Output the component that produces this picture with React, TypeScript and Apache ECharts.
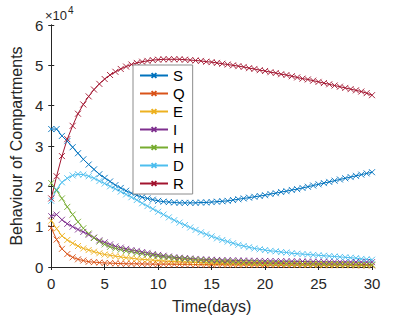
import React, { useEffect, useRef } from "react";
import * as echarts from "echarts";

// time grid (days), step 0.5
const days: number[] = Array.from({ length: 61 }, (_, i) => i * 0.5);

// values in units of 10^4
const S = [3.42, 3.42, 3.25, 3.12, 2.97, 2.82, 2.67, 2.54, 2.42, 2.3, 2.21, 2.12, 2.03, 1.96, 1.89, 1.83, 1.78, 1.73, 1.7, 1.67, 1.64, 1.62, 1.61, 1.6, 1.59, 1.59, 1.59, 1.59, 1.6, 1.6, 1.61, 1.62, 1.63, 1.64, 1.66, 1.68, 1.7, 1.72, 1.74, 1.76, 1.78, 1.81, 1.83, 1.86, 1.88, 1.91, 1.93, 1.96, 1.99, 2.02, 2.05, 2.08, 2.11, 2.14, 2.17, 2.2, 2.23, 2.26, 2.29, 2.32, 2.35];
const Q = [0.97, 0.68, 0.45, 0.32, 0.24, 0.19, 0.16, 0.13, 0.12, 0.11, 0.1, 0.095, 0.09, 0.085, 0.08, 0.08, 0.08, 0.075, 0.075, 0.07, 0.07, 0.07, 0.07, 0.065, 0.065, 0.065, 0.065, 0.06, 0.06, 0.06, 0.06, 0.06, 0.06, 0.055, 0.055, 0.055, 0.055, 0.055, 0.05, 0.05, 0.05, 0.05, 0.05, 0.05, 0.05, 0.05, 0.05, 0.05, 0.05, 0.05, 0.05, 0.045, 0.045, 0.045, 0.045, 0.045, 0.045, 0.04, 0.04, 0.04, 0.04];
const E = [1.15, 0.95, 0.77, 0.67, 0.59, 0.52, 0.46, 0.42, 0.38, 0.34, 0.31, 0.29, 0.27, 0.25, 0.23, 0.22, 0.2, 0.19, 0.18, 0.17, 0.16, 0.15, 0.14, 0.135, 0.13, 0.125, 0.12, 0.115, 0.11, 0.105, 0.1, 0.098, 0.096, 0.094, 0.092, 0.09, 0.088, 0.086, 0.084, 0.082, 0.08, 0.078, 0.076, 0.074, 0.072, 0.07, 0.068, 0.066, 0.064, 0.062, 0.06, 0.059, 0.058, 0.057, 0.056, 0.055, 0.054, 0.053, 0.052, 0.051, 0.05];
const I = [1.26, 1.3, 1.17, 1.07, 1.0, 0.93, 0.87, 0.8, 0.73, 0.66, 0.61, 0.56, 0.51, 0.48, 0.45, 0.42, 0.4, 0.37, 0.35, 0.32, 0.3, 0.28, 0.26, 0.24, 0.23, 0.22, 0.21, 0.2, 0.19, 0.185, 0.18, 0.175, 0.17, 0.167, 0.164, 0.161, 0.158, 0.155, 0.153, 0.151, 0.15, 0.148, 0.146, 0.144, 0.142, 0.14, 0.138, 0.136, 0.134, 0.132, 0.13, 0.129, 0.128, 0.127, 0.126, 0.125, 0.124, 0.123, 0.122, 0.121, 0.12];
const H = [2.08, 1.9, 1.7, 1.49, 1.3, 1.12, 0.96, 0.83, 0.72, 0.63, 0.56, 0.5, 0.46, 0.43, 0.4, 0.38, 0.35, 0.33, 0.31, 0.29, 0.27, 0.25, 0.24, 0.22, 0.21, 0.2, 0.19, 0.18, 0.17, 0.16, 0.15, 0.145, 0.14, 0.135, 0.13, 0.125, 0.12, 0.115, 0.11, 0.105, 0.1, 0.098, 0.096, 0.094, 0.092, 0.09, 0.088, 0.086, 0.084, 0.082, 0.08, 0.078, 0.076, 0.074, 0.072, 0.07, 0.068, 0.066, 0.064, 0.062, 0.06];
const D = [1.64, 1.92, 2.1, 2.2, 2.27, 2.3, 2.29, 2.25, 2.2, 2.13, 2.07, 2.0, 1.94, 1.87, 1.8, 1.73, 1.66, 1.58, 1.51, 1.44, 1.37, 1.3, 1.23, 1.16, 1.1, 1.04, 0.98, 0.92, 0.86, 0.81, 0.76, 0.71, 0.67, 0.63, 0.59, 0.55, 0.52, 0.49, 0.46, 0.44, 0.42, 0.4, 0.39, 0.37, 0.36, 0.34, 0.33, 0.32, 0.31, 0.3, 0.29, 0.28, 0.27, 0.26, 0.25, 0.24, 0.23, 0.22, 0.2, 0.19, 0.18];
const R = [1.7, 2.25, 2.75, 3.17, 3.5, 3.8, 4.03, 4.23, 4.4, 4.54, 4.66, 4.76, 4.84, 4.91, 4.97, 5.02, 5.06, 5.09, 5.11, 5.13, 5.14, 5.15, 5.15, 5.15, 5.15, 5.14, 5.13, 5.12, 5.11, 5.09, 5.08, 5.06, 5.04, 5.02, 5.0, 4.98, 4.96, 4.93, 4.91, 4.88, 4.86, 4.83, 4.81, 4.78, 4.76, 4.73, 4.7, 4.67, 4.65, 4.62, 4.59, 4.56, 4.53, 4.5, 4.47, 4.44, 4.41, 4.38, 4.35, 4.31, 4.26];

const seriesNames = ["S", "Q", "E", "I", "H", "D", "R"];
const seriesValues = [S, Q, E, I, H, D, R];
const seriesColors = ["#0072BD", "#D95319", "#EDB120", "#7E2F8E", "#77AC30", "#4DBEEE", "#A2142F"];

const xTicks = [0, 5, 10, 15, 20, 25, 30];
const yTicks = [0, 1, 2, 3, 4, 5, 6];

const CROSS = "path://M0,0L10,10M0,10L10,0";
const FONT = "Liberation Sans, Arial, sans-serif";
const AX = "#262626";

export default function App() {
  const ref = useRef<HTMLDivElement>(null);
  useEffect(() => {
    if (!ref.current) return;
    const chart = echarts.init(ref.current, undefined, { renderer: "svg" });
    const axisCommon = {
      type: "value" as const,
      axisLine: { show: true, lineStyle: { color: AX, width: 1 } },
      axisTick: { show: true, inside: true, length: 3, lineStyle: { color: AX } },
      splitLine: { show: false },
    };
    chart.setOption({
      animation: false,
      backgroundColor: "#ffffff",
      textStyle: { fontFamily: FONT },
      grid: { left: 44, right: 24, top: 25, bottom: 50, containLabel: false },
      legend: {
        orient: "vertical",
        left: 133,
        top: 65,
        itemWidth: 28,
        itemHeight: 6,
        itemGap: 3,
        padding: [3, 8, 3, 6],
        backgroundColor: "#ffffff",
        borderColor: "#8c8c8c",
        borderWidth: 1,
        textStyle: { fontFamily: FONT, fontSize: 15, color: "#000" },
        data: seriesNames,
      },
      xAxis: [
        {
          ...axisCommon,
          min: 0,
          max: 30,
          interval: 5,
          axisLabel: { color: AX, fontSize: 15, fontFamily: FONT, margin: 9, formatter: (v: number) => (xTicks.includes(v) ? String(v) : "") },
          name: "Time(days)",
          nameLocation: "middle",
          nameGap: 31,
          nameTextStyle: { color: AX, fontSize: 16, fontFamily: FONT },
        },
        { ...axisCommon, position: "top", min: 0, max: 30, interval: 5, axisLabel: { show: false } },
      ],
      yAxis: [
        {
          ...axisCommon,
          min: 0,
          max: 6,
          interval: 1,
          axisLabel: { color: AX, fontSize: 15, fontFamily: FONT, margin: 8, formatter: (v: number) => (yTicks.includes(v) ? String(v) : "") },
          name: "Behaviour of Compartments",
          nameLocation: "middle",
          nameGap: 18,
          nameTextStyle: { color: AX, fontSize: 16, fontFamily: FONT },
        },
        { ...axisCommon, position: "right", min: 0, max: 6, interval: 1, axisLabel: { show: false } },
      ],
      graphic: [
        { type: "text", left: 45, top: 9, style: { text: "×10", fontSize: 13, fontFamily: FONT, fill: AX } },
        { type: "text", left: 68, top: 5, style: { text: "4", fontSize: 10, fontFamily: FONT, fill: AX } },
      ],
      series: seriesNames.map((name, k) => ({
        name,
        type: "line",
        data: days.map((t, i) => [t, seriesValues[k][i]]),
        symbol: CROSS,
        symbolSize: 6,
        showSymbol: true,
        showAllSymbol: true,
        lineStyle: { color: seriesColors[k], width: 1 },
        itemStyle: { color: seriesColors[k], borderColor: seriesColors[k], borderWidth: 0.9 },
        emphasis: { disabled: true },
      })),
    });
    return () => chart.dispose();
  }, []);
  return <div ref={ref} style={{ position: "fixed", left: 0, top: 0, width: 396, height: 319 }} />;
}
